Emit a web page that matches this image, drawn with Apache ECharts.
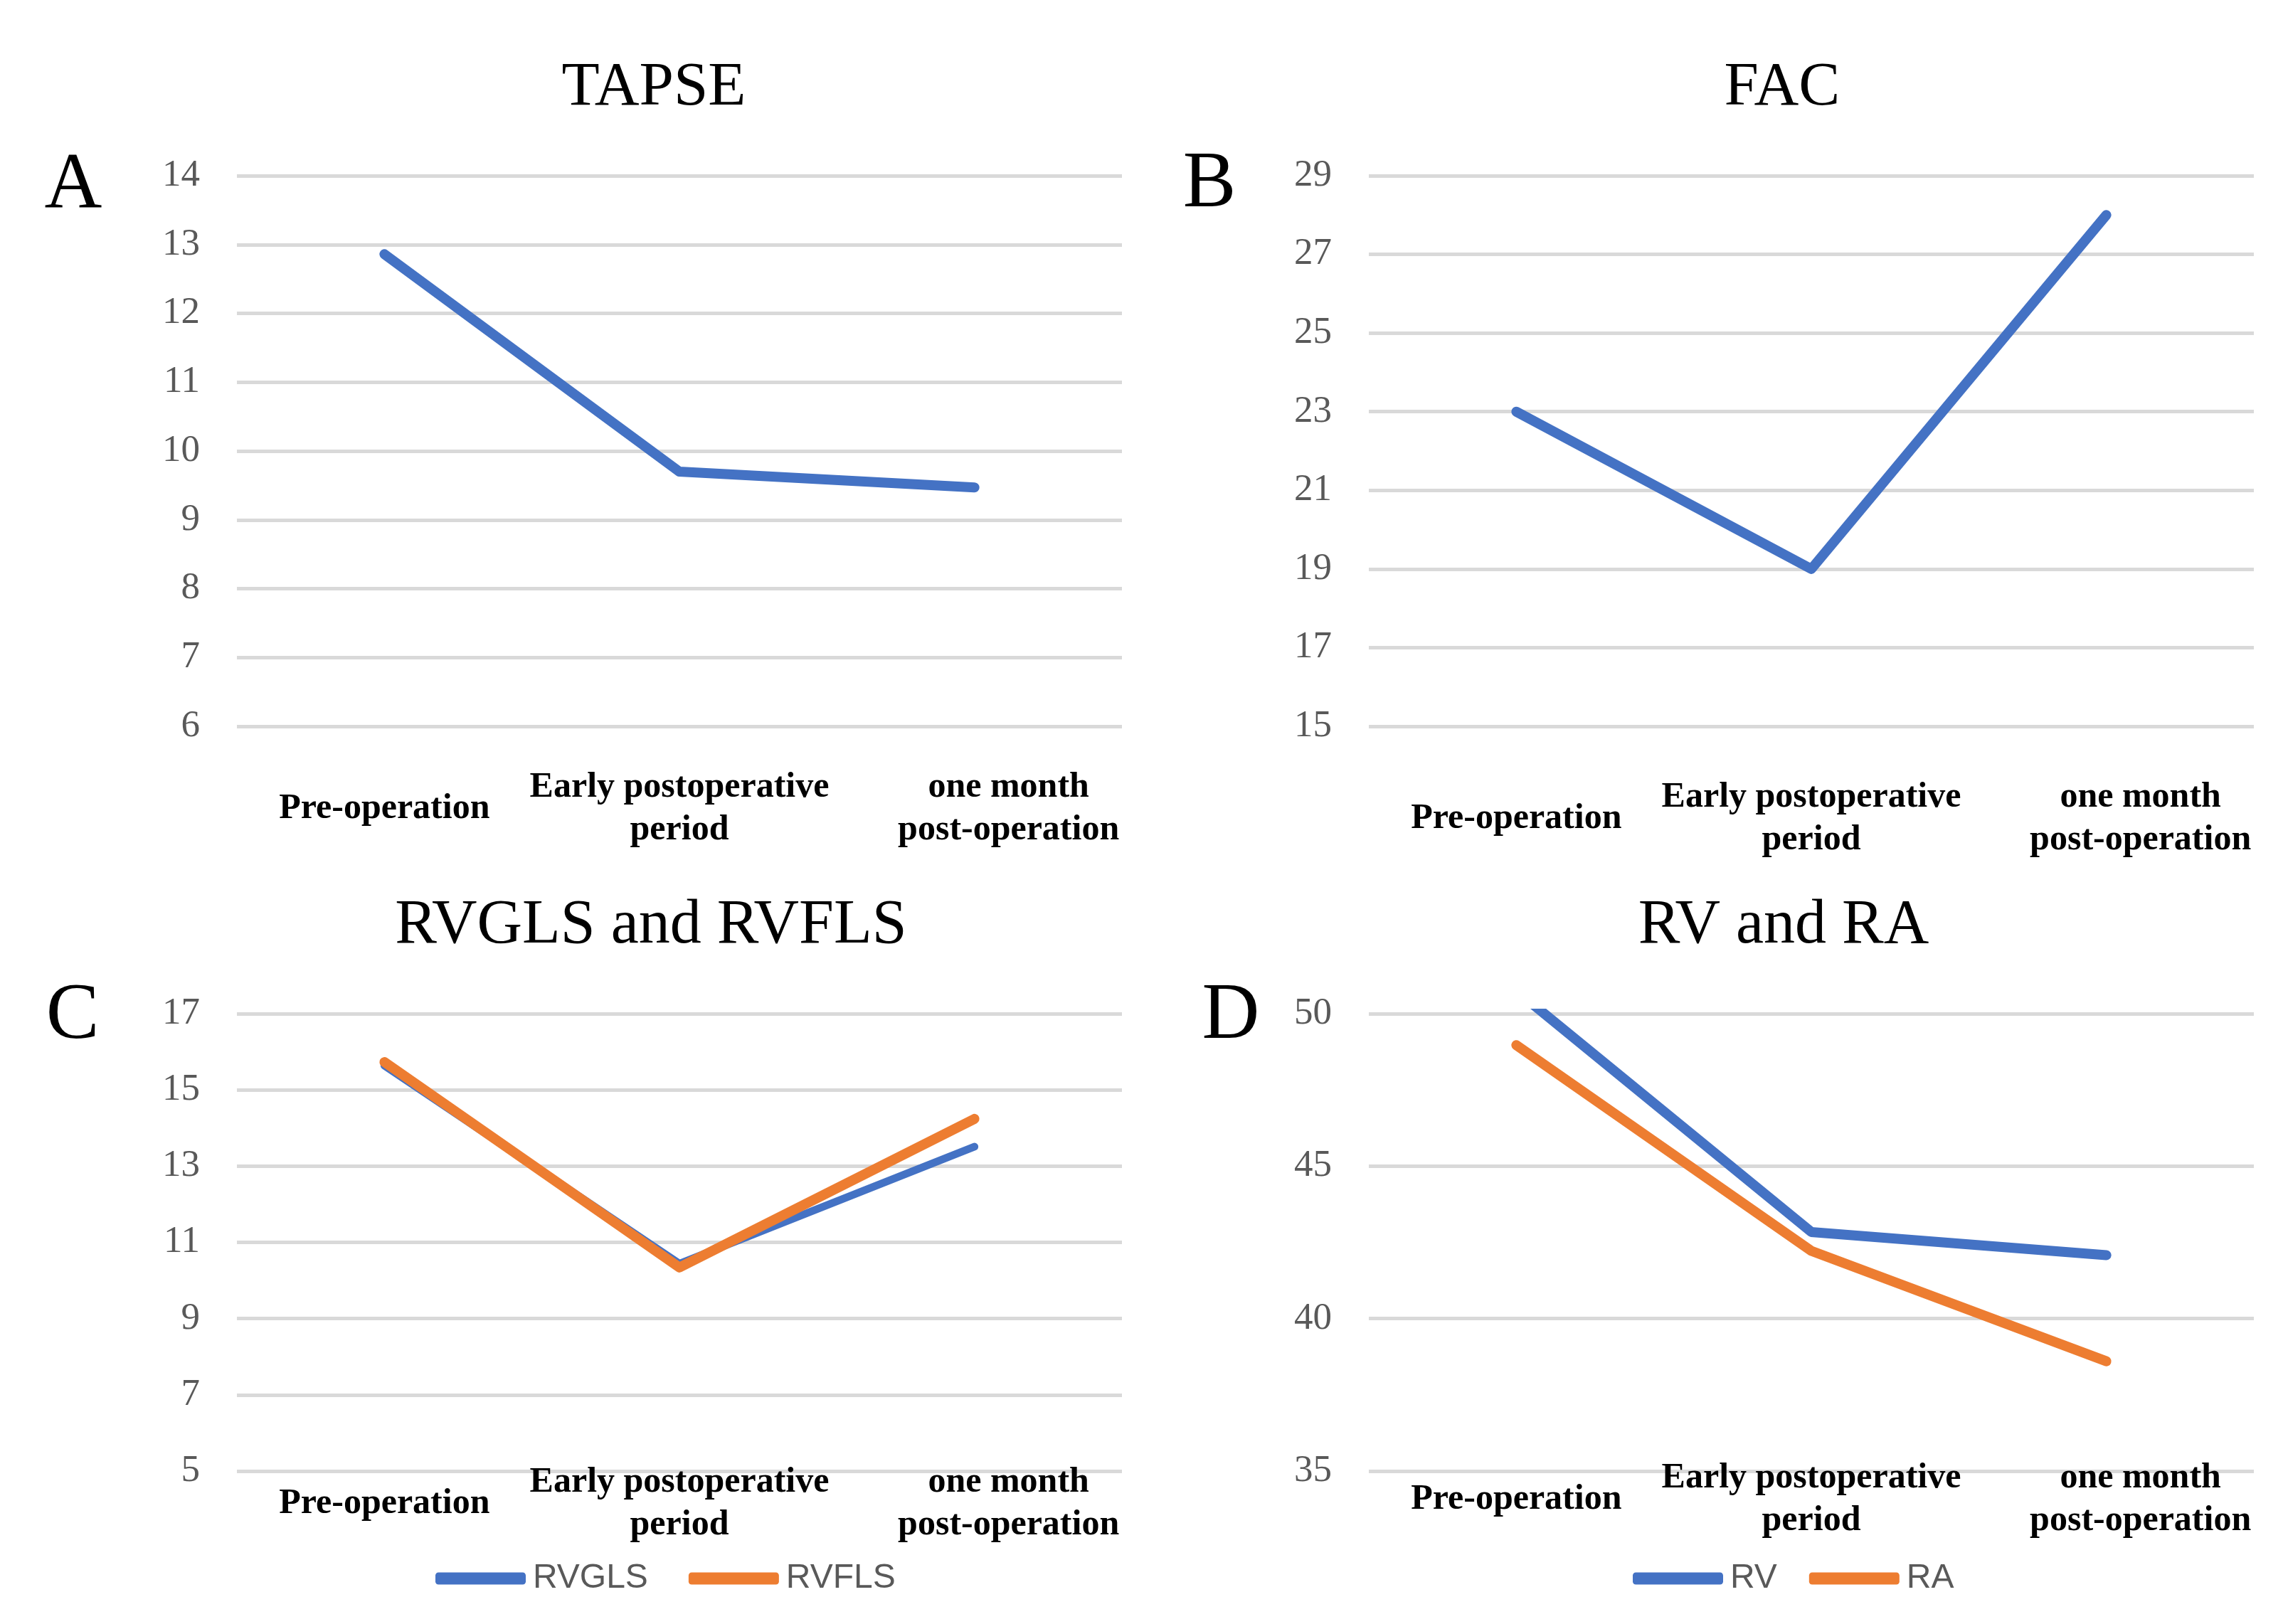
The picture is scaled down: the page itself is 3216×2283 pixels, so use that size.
<!DOCTYPE html>
<html>
<head>
<meta charset="utf-8">
<title>TAPSE / FAC / RVGLS and RVFLS / RV and RA</title>
<script src="https://cdn.jsdelivr.net/npm/echarts@6/dist/echarts.min.js"></script>
<style>
    html, body { margin: 0; padding: 0; background: #fff; }
    #main { width: 3216px; height: 2283px; }
</style>
</head>
<body>
<div id="main"></div>
<script>
// 数据
var categories = ['Pre-operation', 'Early postoperative\nperiod', 'one month\npost-operation'];

var tapse = [12.86, 9.70, 9.47];
var fac = [23.0, 19.0, 28.0];
var rvgls = [15.64, 10.44, 13.51];
var rvfls = [15.73, 10.34, 14.24];
var rv = [50.75, 42.84, 42.08];
var ra = [48.97, 42.22, 38.60];

var tapseTicks = [6, 7, 8, 9, 10, 11, 12, 13, 14];
var facTicks = [15, 17, 19, 21, 23, 25, 27, 29];
var strainTicks = [5, 7, 9, 11, 13, 15, 17];
var volumeTicks = [35, 40, 45, 50];

var BLUE = '#4472C4', ORANGE = '#ED7D31';
var SERIF = '"Liberation Serif", "Times New Roman", serif';

function xAxisFor(gridIndex, margin) {
    return {
        type: 'category',
        gridIndex: gridIndex,
        boundaryGap: true,
        data: categories.map(function (c, i) {
            // 最后一个标签在原图里偏右、偏上
            if (i !== 2) return c;
            return {
                value: c,
                textStyle: {
                    verticalAlign: 'middle',
                    lineHeight: 60,
                    padding: [0, 0, 16, 96]
                }
            };
        }),
        axisLine: { show: false },
        axisTick: { show: false },
        axisLabel: {
            interval: 0,
            margin: margin,
            verticalAlign: 'middle',
            fontFamily: SERIF,
            fontWeight: 'bold',
            fontSize: 50,
            lineHeight: 60,
            color: '#000'
        }
    };
}

function yAxisFor(gridIndex, ticks) {
    return {
        type: 'value',
        gridIndex: gridIndex,
        min: ticks[0],
        max: ticks[ticks.length - 1],
        axisLine: { show: false },
        axisTick: { show: false, customValues: ticks },
        axisLabel: {
            customValues: ticks,
            margin: 52,
            fontFamily: SERIF,
            fontSize: 53,
            color: '#595959'
        },
        splitLine: { show: true, lineStyle: { color: '#d9d9d9', width: 5 } }
    };
}

function lineSeries(name, idx, data, color, width) {
    return {
        name: name,
        type: 'line',
        xAxisIndex: idx,
        yAxisIndex: idx,
        data: data,
        symbol: 'none',
        clip: true,
        lineStyle: { color: color, width: width, cap: 'round', join: 'round' },
        itemStyle: { color: color }
    };
}

function titleAt(text, x, y, size) {
    return {
        text: text,
        left: x,
        top: y,
        textAlign: 'center',
        textVerticalAlign: 'middle',
        textStyle: { fontFamily: SERIF, fontWeight: 'normal', fontSize: size, color: '#000' }
    };
}

function legendAt(names, left, gap) {
    return {
        data: names,
        left: left,
        top: 2190,
        icon: 'roundRect',
        itemWidth: 127,
        itemHeight: 17,
        itemGap: gap,
        textStyle: {
            fontFamily: '"Liberation Sans", Arial, sans-serif',
            fontSize: 48,
            color: '#595959',
            padding: [0, 0, 0, 5]
        }
    };
}

var chart = echarts.init(document.getElementById('main'));
var option = {
    backgroundColor: '#fff',
    animation: false,
    title: [
        titleAt('TAPSE', 914, 119, 87),
        titleAt('FAC', 2500, 119, 87),
        titleAt('RVGLS and RVFLS', 910, 1297, 88),
        titleAt('RV and RA', 2502, 1297, 88),
        titleAt('A', 98, 258, 112),
        titleAt('B', 1695, 256, 112),
        titleAt('C', 97, 1425, 112),
        titleAt('D', 1725, 1425, 112)
    ],
    legend: [
        legendAt(['RVGLS', 'RVFLS'], 607, 57),
        legendAt(['RV', 'RA'], 2290, 45)
    ],
    grid: [
        { left: 333, right: 1639, top: 247, bottom: 1262 },
        { left: 1924, right: 48, top: 247, bottom: 1262 },
        { left: 333, right: 1639, top: 1425, bottom: 215 },
        { left: 1924, right: 48, top: 1425, bottom: 215 }
    ],
    xAxis: [
        xAxisFor(0, 116),
        xAxisFor(1, 130),
        xAxisFor(2, 46),
        xAxisFor(3, 40)
    ],
    yAxis: [
        yAxisFor(0, tapseTicks),
        yAxisFor(1, facTicks),
        yAxisFor(2, strainTicks),
        yAxisFor(3, volumeTicks)
    ],
    series: [
        lineSeries('TAPSE', 0, tapse, BLUE, 14),
        lineSeries('FAC', 1, fac, BLUE, 14),
        lineSeries('RVGLS', 2, rvgls, BLUE, 11),
        lineSeries('RVFLS', 2, rvfls, ORANGE, 14),
        lineSeries('RV', 3, rv, BLUE, 14),
        lineSeries('RA', 3, ra, ORANGE, 14)
    ]
};
chart.setOption(option);
</script>
</body>
</html>
